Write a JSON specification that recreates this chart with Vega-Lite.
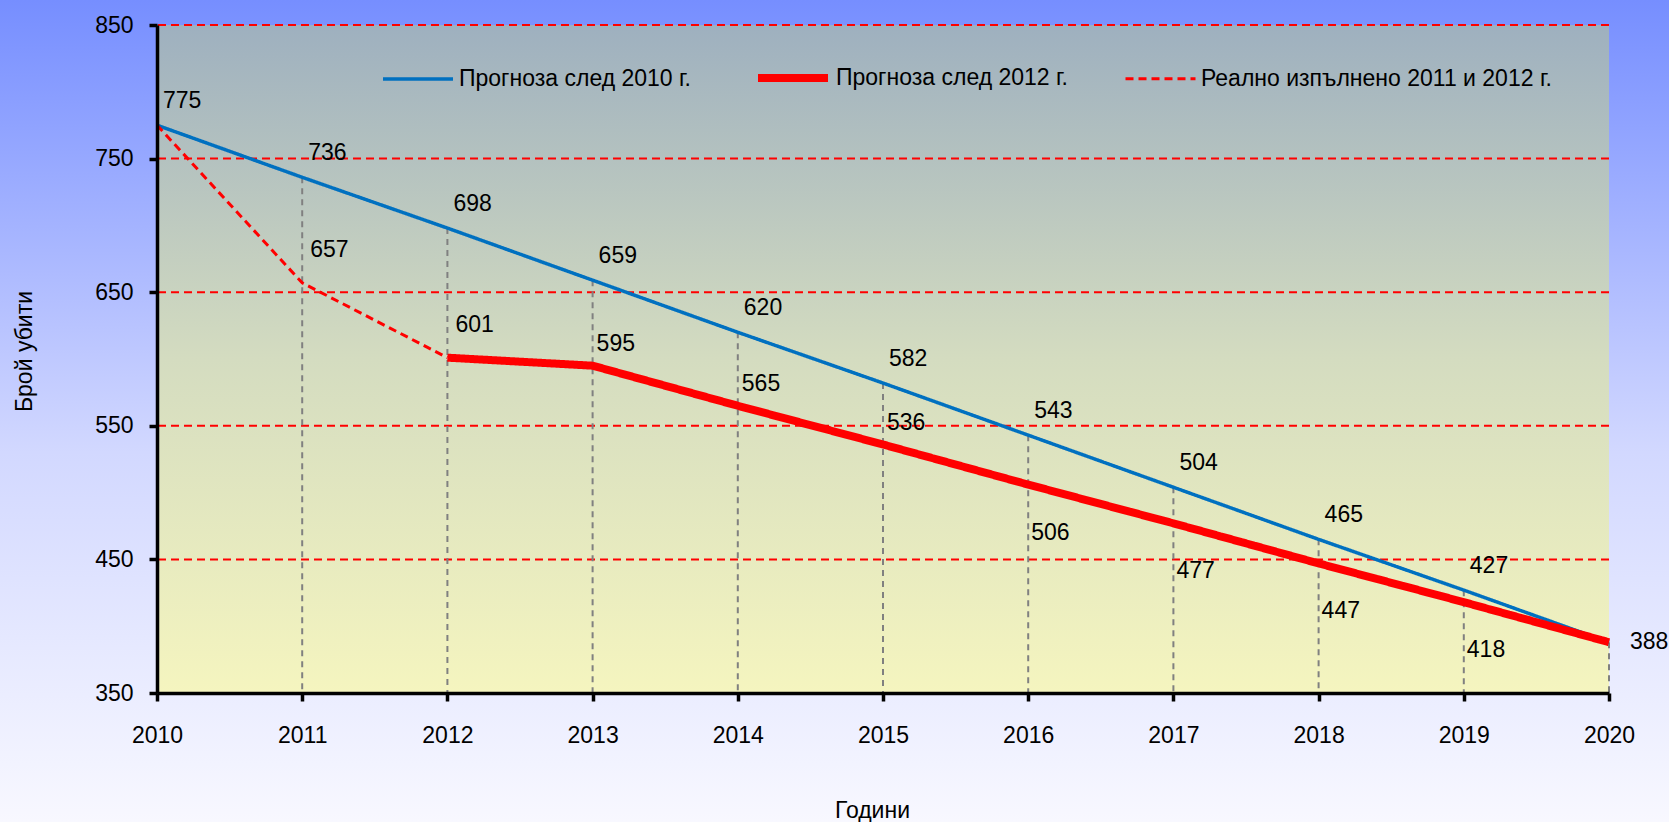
{
  "$schema": "https://vega.github.io/schema/vega-lite/v6.json",
  "width": 1452,
  "height": 668,
  "autosize": {"type": "none"},
  "padding": {"left": 157, "top": 25, "right": 60, "bottom": 129},
  "background": "#b8c4fc",
  "config": {
    "font": "Liberation Sans",
    "view": {"stroke": null},
    "axis": {
      "labelFont": "Liberation Sans",
      "titleFont": "Liberation Sans",
      "labelFontSize": 23,
      "titleFontSize": 23,
      "labelColor": "#000000",
      "titleColor": "#000000",
      "titleFontWeight": "normal",
      "domainColor": "#000000",
      "domainWidth": 3.5,
      "tickColor": "#000000",
      "tickWidth": 3.5,
      "tickSize": 8,
      "grid": false
    }
  },
  "datasets": {
    "main": [
      {"series": "Прогноза след 2010 г.", "year": 2010, "value": 775},
      {"series": "Прогноза след 2010 г.", "year": 2011, "value": 736},
      {"series": "Прогноза след 2010 г.", "year": 2012, "value": 698},
      {"series": "Прогноза след 2010 г.", "year": 2013, "value": 659},
      {"series": "Прогноза след 2010 г.", "year": 2014, "value": 620},
      {"series": "Прогноза след 2010 г.", "year": 2015, "value": 582},
      {"series": "Прогноза след 2010 г.", "year": 2016, "value": 543},
      {"series": "Прогноза след 2010 г.", "year": 2017, "value": 504},
      {"series": "Прогноза след 2010 г.", "year": 2018, "value": 465},
      {"series": "Прогноза след 2010 г.", "year": 2019, "value": 427},
      {"series": "Прогноза след 2010 г.", "year": 2020, "value": 388},
      {"series": "Прогноза след 2012 г.", "year": 2012, "value": 601},
      {"series": "Прогноза след 2012 г.", "year": 2013, "value": 595},
      {"series": "Прогноза след 2012 г.", "year": 2014, "value": 565},
      {"series": "Прогноза след 2012 г.", "year": 2015, "value": 536},
      {"series": "Прогноза след 2012 г.", "year": 2016, "value": 506},
      {"series": "Прогноза след 2012 г.", "year": 2017, "value": 477},
      {"series": "Прогноза след 2012 г.", "year": 2018, "value": 447},
      {"series": "Прогноза след 2012 г.", "year": 2019, "value": 418},
      {"series": "Прогноза след 2012 г.", "year": 2020, "value": 388},
      {"series": "Реално изпълнено 2011 и 2012 г.", "year": 2010, "value": 775},
      {"series": "Реално изпълнено 2011 и 2012 г.", "year": 2011, "value": 657},
      {"series": "Реално изпълнено 2011 и 2012 г.", "year": 2012, "value": 601}
    ],
    "grid": [
      {"level": 450}, {"level": 550}, {"level": 650}, {"level": 750}, {"level": 850}
    ]
  },
  "layer": [
    {
      "data": {"values": [{"bg": 1}]},
      "mark": {
        "type": "rect", "x": -157, "x2": 1512, "y": -25, "y2": 797,
        "fill": {"gradient": "linear", "x1": 0, "y1": 0, "x2": 0, "y2": 1,
          "stops": [{"offset": 0, "color": "#768eff"}, {"offset": 0.55, "color": "#d2d8ff"}, {"offset": 1, "color": "#f8f8ff"}]}
      },
      "encoding": {}
    },
    {
      "data": {"values": [{"bg": 1}]},
      "mark": {
        "type": "rect", "x": 0, "x2": "width", "y": 0, "y2": "height",
        "fill": {"gradient": "linear", "x1": 0, "y1": 0, "x2": 0, "y2": 1,
          "stops": [{"offset": 0, "color": "#9eb0bf"}, {"offset": 0.5, "color": "#d4dcc0"}, {"offset": 1, "color": "#f5f5bf"}]}
      },
      "encoding": {}
    },
    {
      "data": {"name": "grid"},
      "mark": {"type": "rule", "color": "#ff0000", "strokeWidth": 2, "strokeDash": [8, 5]},
      "encoding": {
        "y": {"field": "level", "type": "quantitative", "title": "Брой убити",
          "scale": {"domain": [350, 850], "nice": false, "zero": false}}
      }
    },
    {
      "data": {"name": "main"},
      "transform": [{"filter": "datum.series === 'Прогноза след 2010 г.'"}],
      "mark": {"type": "rule", "color": "#808080", "strokeWidth": 2, "strokeDash": [6, 5]},
      "encoding": {
        "x": {"field": "year", "type": "quantitative", "title": "Години"},
        "y": {"field": "value", "type": "quantitative", "title": "Брой убити"},
        "y2": {"datum": 350}
      }
    },
    {
      "data": {"name": "main"},
      "mark": {"type": "line"},
      "encoding": {
        "x": {"field": "year", "type": "quantitative", "title": "Години",
          "scale": {"domain": [2010, 2020], "nice": false, "zero": false},
          "axis": {"values": [2010, 2011, 2012, 2013, 2014, 2015, 2016, 2017, 2018, 2019, 2020], "zindex": 2,
            "format": "d", "labelPadding": 23, "titlePadding": 52, "titleX": 715, "labelFlush": false}},
        "y": {"field": "value", "type": "quantitative", "title": "Брой убити",
          "axis": {"values": [350, 450, 550, 650, 750, 850], "zindex": 2, "labelPadding": 16, "titlePadding": 58, "titleY": 326}},
        "color": {"field": "series", "type": "nominal",
          "scale": {"domain": ["Прогноза след 2010 г.", "Прогноза след 2012 г.", "Реално изпълнено 2011 и 2012 г."],
            "range": ["#0070c0", "#ff0000", "#ff0000"]},
          "legend": {"orient": "none", "legendX": 224, "legendY": 14, "direction": "horizontal", "title": null,
            "symbolType": "stroke", "symbolSize": 4900, "labelFont": "Liberation Sans", "labelFontSize": 23,
            "labelColor": "#000000", "labelOffset": 4, "columnPadding": 50, "labelLimit": 500}},
        "strokeWidth": {"field": "series", "type": "nominal",
          "scale": {"type": "ordinal", "domain": ["Прогноза след 2010 г.", "Прогноза след 2012 г.", "Реално изпълнено 2011 и 2012 г."],
            "range": [3.5, 8, 3]},
          "legend": {"orient": "none", "legendX": 224, "legendY": 14, "direction": "horizontal", "title": null,
            "symbolType": "stroke", "symbolSize": 4900, "labelFont": "Liberation Sans", "labelFontSize": 23,
            "labelColor": "#000000", "labelOffset": 4, "columnPadding": 50, "labelLimit": 500}},
        "strokeDash": {"field": "series", "type": "nominal",
          "scale": {"domain": ["Прогноза след 2010 г.", "Прогноза след 2012 г.", "Реално изпълнено 2011 и 2012 г."],
            "range": [[1, 0], [1, 0], [8, 5]]},
          "legend": {"orient": "none", "legendX": 224, "legendY": 14, "direction": "horizontal", "title": null,
            "symbolType": "stroke", "symbolSize": 4900, "labelFont": "Liberation Sans", "labelFontSize": 23,
            "labelColor": "#000000", "labelOffset": 4, "columnPadding": 50, "labelLimit": 500}}
      }
    },
    {
      "data": {"name": "main"},
      "transform": [{"filter": "datum.series === 'Прогноза след 2010 г.' && datum.year < 2020"}],
      "mark": {"type": "text", "align": "left", "baseline": "middle", "dx": 6, "dy": -24, "fontSize": 23, "font": "Liberation Sans", "color": "#000000"},
      "encoding": {
        "x": {"field": "year", "type": "quantitative", "title": "Години"},
        "y": {"field": "value", "type": "quantitative", "title": "Брой убити"},
        "text": {"field": "value", "type": "quantitative", "format": "d"}
      }
    },
    {
      "data": {"name": "main"},
      "transform": [{"filter": "datum.series === 'Реално изпълнено 2011 и 2012 г.' && datum.year > 2010"}],
      "mark": {"type": "text", "align": "left", "baseline": "middle", "dx": 8, "dy": -33, "fontSize": 23, "font": "Liberation Sans", "color": "#000000"},
      "encoding": {
        "x": {"field": "year", "type": "quantitative", "title": "Години"},
        "y": {"field": "value", "type": "quantitative", "title": "Брой убити"},
        "text": {"field": "value", "type": "quantitative", "format": "d"}
      }
    },
    {
      "data": {"name": "main"},
      "transform": [{"filter": "datum.series === 'Прогноза след 2012 г.' && datum.year > 2012 && datum.year < 2016"}],
      "mark": {"type": "text", "align": "left", "baseline": "middle", "dx": 4, "dy": -22, "fontSize": 23, "font": "Liberation Sans", "color": "#000000"},
      "encoding": {
        "x": {"field": "year", "type": "quantitative", "title": "Години"},
        "y": {"field": "value", "type": "quantitative", "title": "Брой убити"},
        "text": {"field": "value", "type": "quantitative", "format": "d"}
      }
    },
    {
      "data": {"name": "main"},
      "transform": [{"filter": "datum.series === 'Прогноза след 2012 г.' && datum.year >= 2016 && datum.year < 2020"}],
      "mark": {"type": "text", "align": "left", "baseline": "middle", "dx": 3, "dy": 48, "fontSize": 23, "font": "Liberation Sans", "color": "#000000"},
      "encoding": {
        "x": {"field": "year", "type": "quantitative", "title": "Години"},
        "y": {"field": "value", "type": "quantitative", "title": "Брой убити"},
        "text": {"field": "value", "type": "quantitative", "format": "d"}
      }
    },
    {
      "data": {"name": "main"},
      "transform": [{"filter": "datum.series === 'Прогноза след 2012 г.' && datum.year === 2020"}],
      "mark": {"type": "text", "align": "left", "baseline": "middle", "dx": 21, "dy": 0, "fontSize": 23, "font": "Liberation Sans", "color": "#000000"},
      "encoding": {
        "x": {"field": "year", "type": "quantitative", "title": "Години"},
        "y": {"field": "value", "type": "quantitative", "title": "Брой убити"},
        "text": {"field": "value", "type": "quantitative", "format": "d"}
      }
    }
  ]
}
